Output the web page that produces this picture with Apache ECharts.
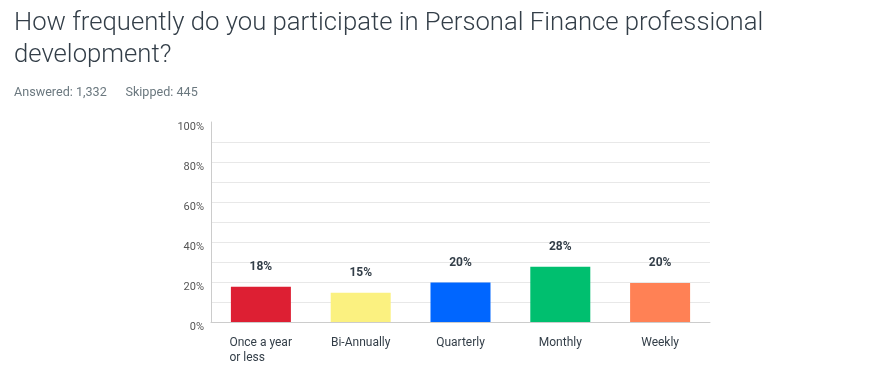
<!DOCTYPE html>
<html><head><meta charset="utf-8">
<script src="https://cdn.jsdelivr.net/npm/echarts@6/dist/echarts.min.js"></script>
<style>html,body{margin:0;padding:0;background:#fff}#c{width:896px;height:391px}</style>
</head><body><div id="c"></div>
<script>
const titleText = "How frequently do you participate in Personal Finance professional\ndevelopment?";
const subtitleText = "Answered: 1,332      Skipped: 445";
const categories = ["Once a year\nor less", "Bi-Annually", "Quarterly", "Monthly", "Weekly"];
const values = [17.6, 14.6, 19.7, 27.6, 19.5];
const colors = ["#dd1f33", "#fbf180", "#0066ff", "#00bf6f", "#ff8155"];
const yTicks = [0, 20, 40, 60, 80, 100];

const chart = echarts.init(document.getElementById('c'), null, {renderer: 'canvas'});
const gridColors = [];
for (let v = 0; v <= 100; v += 10) gridColors.push(v === 100 ? 'rgba(0,0,0,0)' : '#e8e8e8');
chart.setOption({
  animation: false,
  textStyle: {fontFamily: 'Roboto'},
  title: [
    {text: titleText, left: 9, top: 3, textStyle: {fontFamily: 'Roboto', fontSize: 25.7, fontWeight: 300, color: '#333e48', lineHeight: 32}},
    {text: subtitleText, left: 9, top: 81, textStyle: {fontFamily: 'Roboto', fontSize: 12.6, fontWeight: 400, color: '#6b787f'}}
  ],
  grid: {left: 211, top: 122, width: 499, height: 200, containLabel: false},
  xAxis: {
    type: 'category', data: categories,
    axisLine: {show: true, lineStyle: {color: '#cccccc'}},
    axisTick: {show: false},
    axisLabel: {
      margin: 13, color: '#333e48', fontSize: 12, interval: 0,
      formatter: v => v.includes('\n') ? v.split('\n').map(s => '{b|' + s + '}').join('\n') : '{a|' + v + '}',
      rich: {
        a: {fontSize: 12, color: '#333e48', lineHeight: 15, fontFamily: 'Roboto'},
        b: {fontSize: 12, color: '#333e48', lineHeight: 15, fontFamily: 'Roboto', width: 63, align: 'left'}
      }
    }
  },
  yAxis: {
    type: 'value', min: 0, max: 100, interval: 10,
    axisLine: {show: true, lineStyle: {color: '#cccccc'}},
    axisTick: {show: false},
    splitLine: {show: true, lineStyle: {color: gridColors}},
    axisLabel: {
      margin: 7, color: '#555', fontSize: 11, verticalAlign: 'top',
      formatter: v => yTicks.includes(v) ? v + '%' : ''
    }
  },
  series: [{
    type: 'bar', barWidth: 60,
    data: values.map((v, i) => ({value: v, itemStyle: {color: colors[i]}})),
    label: {show: true, position: 'top', distance: 14, fontSize: 12, fontWeight: 'bold', color: '#333e48',
      formatter: p => Math.round(p.value) + '%'}
  }]
});
</script></body></html>
